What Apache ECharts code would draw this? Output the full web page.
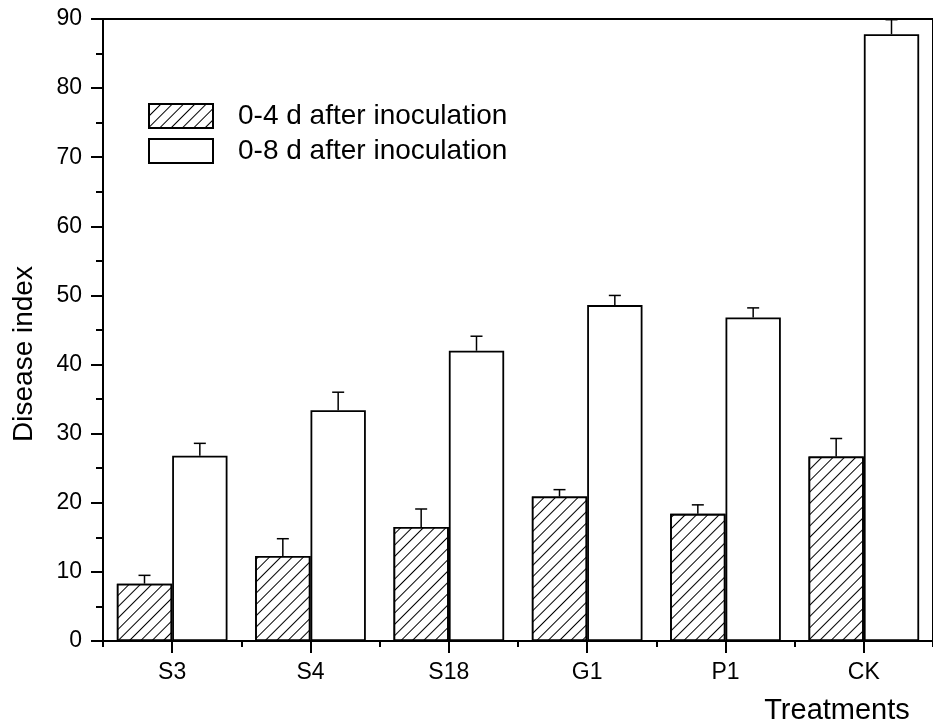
<!DOCTYPE html>
<html>
<head>
<meta charset="utf-8">
<script src="https://cdn.jsdelivr.net/npm/echarts@6/dist/echarts.min.js"></script>
<style>
html,body{margin:0;padding:0;background:#fff;}
#chart{width:933px;height:725px;}
</style>
</head>
<body>
<div id="chart"></div>
<script>
const categories = ['S3', 'S4', 'S18', 'G1', 'P1', 'CK'];
const seriesNames = ['0-4 d after inoculation', '0-8 d after inoculation'];
const early = [8.3, 12.3, 16.5, 20.9, 18.4, 26.7];
const earlyErr = [1.2, 2.5, 2.6, 1.0, 1.3, 2.6];
const late = [26.8, 33.4, 42.0, 48.6, 46.8, 87.8];
const lateErr = [1.8, 2.6, 2.1, 1.4, 1.4, 2.1];
const yTicks = [0, 10, 20, 30, 40, 50, 60, 70, 80, 90];

const FONT = '"Liberation Sans", Arial, Helvetica, sans-serif';

function errSeries(vals, errs, side) {
  return {
    type: 'custom',
    silent: true,
    clip: true,
    z: 5,
    data: vals.map((v, i) => [i, v, errs[i]]),
    renderItem: function (params, api) {
      const i = api.value(0), v = api.value(1), e = api.value(2);
      const bw = api.size([1, 0])[0];
      const off = side * bw * 0.2;
      const p0 = api.coord([i, v]);
      const p1 = api.coord([i, v + e]);
      const x = p0[0] + off;
      const half = 6;
      const st = { stroke: '#000', lineWidth: 1.5 };
      return {
        type: 'group',
        children: [
          { type: 'line', shape: { x1: x, y1: p0[1], x2: x, y2: p1[1] }, style: st },
          { type: 'line', shape: { x1: x - half, y1: p1[1], x2: x + half, y2: p1[1] }, style: st }
        ]
      };
    }
  };
}

const chart = echarts.init(document.getElementById('chart'), null, { renderer: 'canvas' });
chart.setOption({
  animation: false,
  backgroundColor: '#fff',
  textStyle: { fontFamily: FONT, color: '#000' },
  grid: { left: 103, top: 19, width: 840, height: 622, show: true, borderColor: '#000', borderWidth: 2, backgroundColor: 'transparent' },
  legend: {
    data: seriesNames,
    orient: 'vertical',
    left: 148,
    top: 102,
    padding: 0,
    itemWidth: 64,
    itemHeight: 24,
    itemGap: 7,
    icon: 'rect',
    textStyle: { fontFamily: FONT, fontSize: 28, color: '#000', padding: [0, 0, 0, 20] },
    selectedMode: false
  },
  xAxis: [
    {
      type: 'category',
      data: categories,
      position: 'bottom',
      axisLine: { show: true, lineStyle: { color: '#000', width: 2 } },
      axisTick: { show: true, alignWithLabel: true, length: 12, lineStyle: { color: '#000', width: 2 } },
      axisLabel: { color: '#000', fontFamily: FONT, fontSize: 23, margin: 20 },
      splitLine: { show: false }
    },
    {
      type: 'category',
      data: categories,
      position: 'bottom',
      gridIndex: 0,
      axisLine: { show: false },
      axisTick: { show: true, length: 6, lineStyle: { color: '#000', width: 2 } },
      axisLabel: { show: false },
      splitLine: { show: false }
    }
  ],
  yAxis: {
    type: 'value',
    min: yTicks[0],
    max: yTicks[yTicks.length - 1],
    interval: 10,
    axisLine: { show: true, lineStyle: { color: '#000', width: 2 } },
    axisTick: { show: true, length: 12, lineStyle: { color: '#000', width: 2 } },
    minorTick: { show: true, splitNumber: 2, length: 7, lineStyle: { color: '#000', width: 2 } },
    axisLabel: { color: '#000', fontFamily: FONT, fontSize: 23, margin: 21 },
    splitLine: { show: false }
  },
  series: [
    {
      name: seriesNames[0],
      type: 'bar',
      data: early,
      barGap: '0%',
      barCategoryGap: '20%',
      itemStyle: {
        color: '#fff',
        borderColor: '#000',
        borderWidth: 1.8,
        decal: { symbol: 'rect', color: '#000', dashArrayX: [1, 0], dashArrayY: [1, 7], rotation: -Math.PI / 4, backgroundColor: '#fff' }
      }
    },
    {
      name: seriesNames[1],
      type: 'bar',
      data: late,
      barGap: '0%',
      barCategoryGap: '20%',
      itemStyle: { color: '#fff', borderColor: '#000', borderWidth: 1.8 }
    },
    errSeries(early, earlyErr, -1),
    errSeries(late, lateErr, 1)
  ],
  graphic: [
    {
      type: 'text',
      x: 24, y: 354,
      rotation: Math.PI / 2,
      style: { text: 'Disease index', font: '28px ' + FONT, fill: '#000', align: 'center', verticalAlign: 'middle' }
    },
    {
      type: 'text',
      x: 837, y: 711,
      style: { text: 'Treatments', font: '29px ' + FONT, fill: '#000', align: 'center', verticalAlign: 'middle' }
    }
  ]
});
</script>
</body>
</html>
